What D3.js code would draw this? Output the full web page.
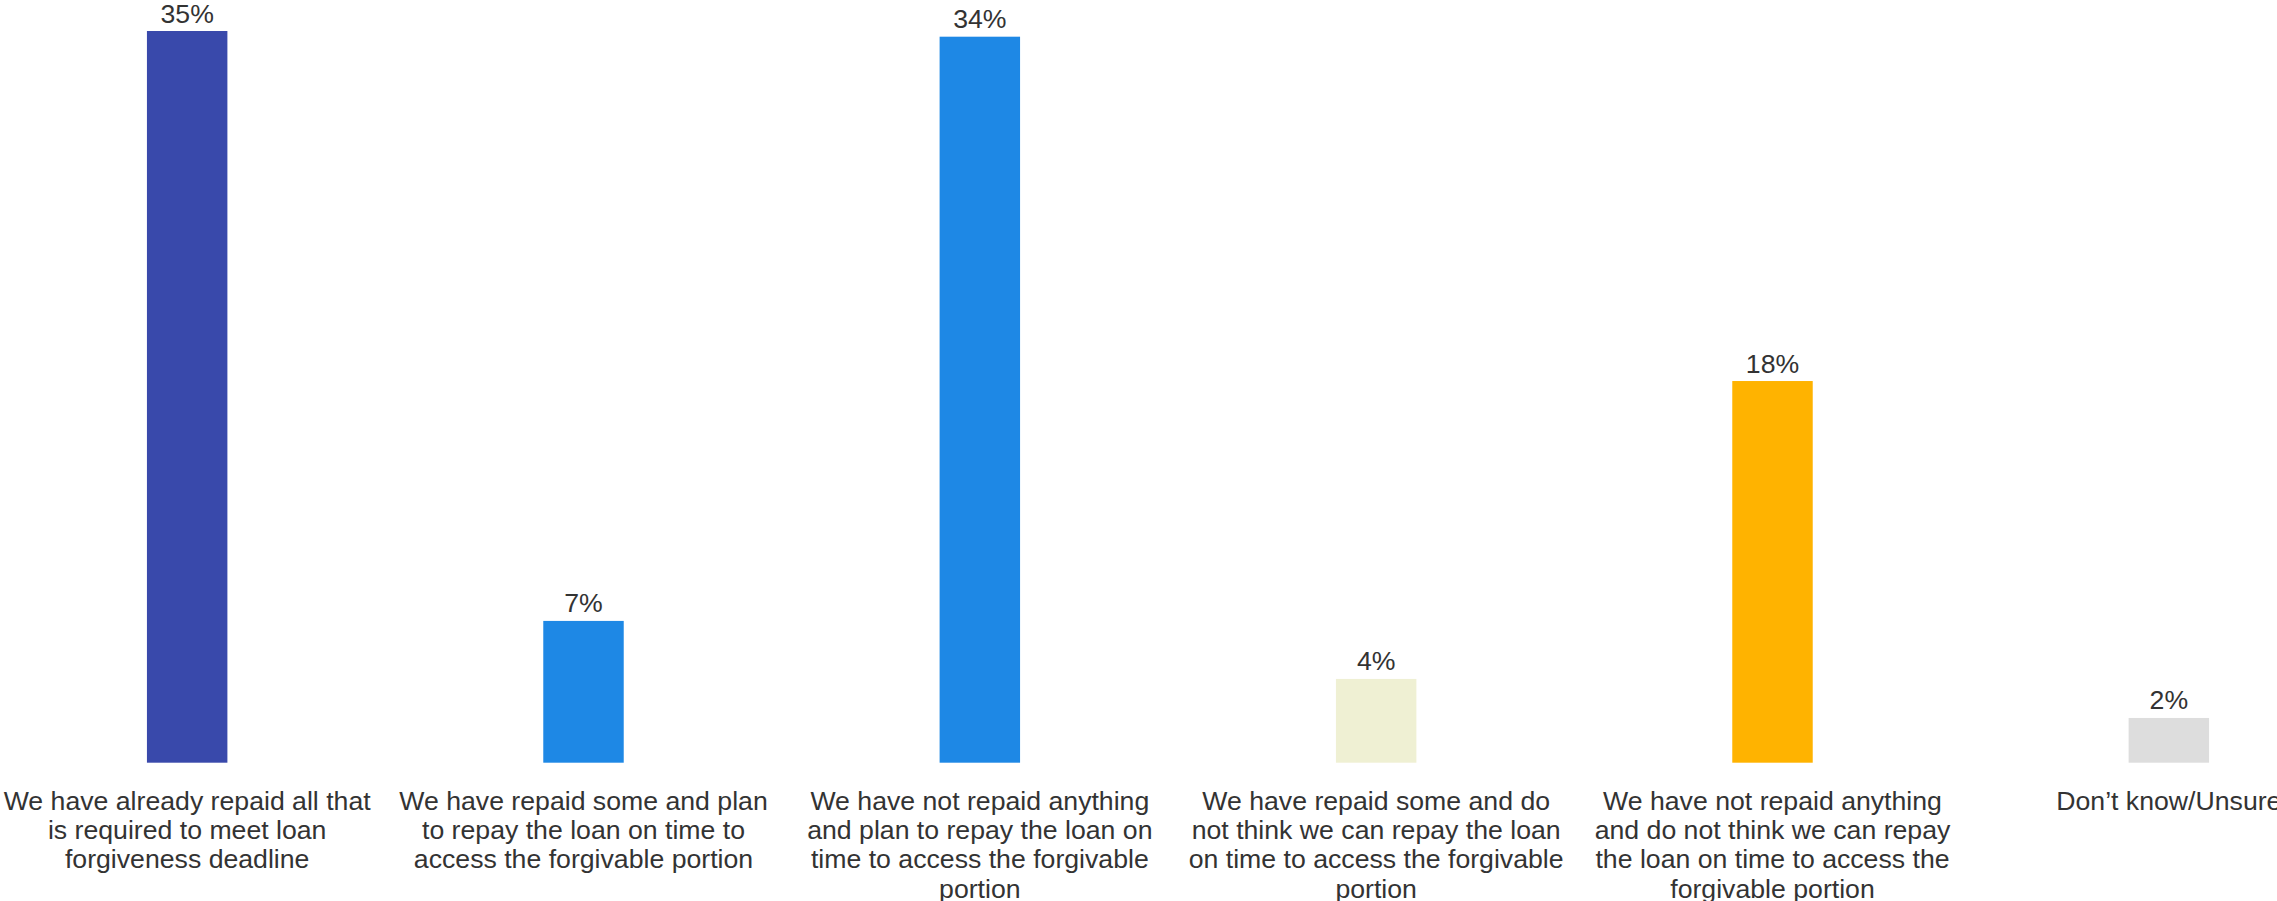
<!DOCTYPE html>
<html>
<head>
<meta charset="utf-8">
<script src="https://cdn.jsdelivr.net/npm/d3@7/dist/d3.min.js"></script>
<style>
  html, body { margin: 0; padding: 0; background: #ffffff; overflow: hidden; }
  svg { display: block; }
  text { font-family: "Liberation Sans", Arial, sans-serif; fill: #333333; }
</style>
</head>
<body>
<svg id="chart" width="2277" height="901"></svg>
<script>
// ---- data ----
const categories = [
  "We have already repaid all that is required to meet loan forgiveness deadline",
  "We have repaid some and plan to repay the loan on time to access the forgivable portion",
  "We have not repaid anything and plan to repay the loan on time to access the forgivable portion",
  "We have repaid some and do not think we can repay the loan on time to access the forgivable portion",
  "We have not repaid anything and do not think we can repay the loan on time to access the forgivable portion",
  "Don\u2019t know/Unsure"
];
const values = [34.68, 6.72, 34.41, 3.97, 18.09, 2.12];
const colors = ["#3949AB", "#1E88E5", "#1E88E5", "#EFF0D3", "#FFB300", "#DDDDDD"];

// ---- layout ----
const W = 2277, H = 901;
const baseY = 762.7, topY = 31;
const fontSize = 26.67;
const lineH = 29.2;
const wrapWidth = 384;

const svg = d3.select("#chart");

const x = d3.scaleBand()
  .domain(categories)
  .range([-11, 2367])
  .paddingInner(0.797)
  .paddingOuter(0.3985);

const y = d3.scaleLinear()
  .domain([0, d3.max(values)])
  .range([baseY, topY]);

const data = categories.map((c, i) => ({ cat: c, value: values[i], color: colors[i] }));

// bars
svg.append("g").selectAll("rect")
  .data(data)
  .join("rect")
  .attr("x", d => x(d.cat))
  .attr("y", d => y(d.value))
  .attr("width", x.bandwidth())
  .attr("height", d => y(0) - y(d.value))
  .attr("fill", d => d.color);

// value labels
const fmt = v => d3.format(".0f")(v) + "%";
svg.append("g").selectAll("text")
  .data(data)
  .join("text")
  .attr("x", d => x(d.cat) + x.bandwidth() / 2)
  .attr("y", d => y(d.value) - 8.5)
  .attr("text-anchor", "middle")
  .style("font-size", fontSize + "px")
  .text(d => fmt(d.value));

// category labels with wrapping
const xAxis = d3.axisBottom(x).tickSize(0).tickPadding(0);
const axisG = svg.append("g")
  .attr("transform", `translate(0,${baseY})`)
  .call(xAxis);
axisG.select(".domain").remove();
axisG.selectAll(".tick text").remove();

const measurer = svg.append("text").style("font-size", fontSize + "px").attr("visibility", "hidden");
function measure(s) { measurer.text(s); return measurer.node().getComputedTextLength(); }
function wrap(str) {
  const words = str.split(/\s+/);
  const lines = [];
  let cur = "";
  words.forEach(w => {
    const t = cur ? cur + " " + w : w;
    if (cur && measure(t) > wrapWidth) { lines.push(cur); cur = w; }
    else cur = t;
  });
  if (cur) lines.push(cur);
  return lines;
}

axisG.selectAll(".tick").each(function(d) {
  const lines = wrap(d);
  const t = d3.select(this).append("text")
    .attr("text-anchor", "middle")
    .attr("y", 47.3)
    .style("font-size", fontSize + "px")
    .style("fill", "#333333");
  lines.forEach((ln, i) => {
    t.append("tspan").attr("x", 0).attr("dy", i === 0 ? 0 : lineH).text(ln);
  });
});
measurer.remove();
</script>
</body>
</html>
